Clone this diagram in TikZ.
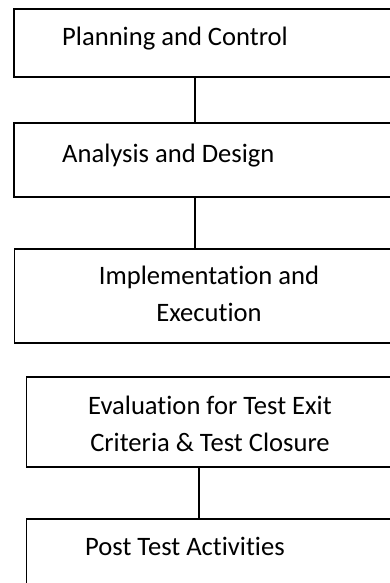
\documentclass[tikz,border=0pt]{standalone}
\usepackage{fontspec}
\setmainfont{Carlito}[RawFeature={-liga;-clig;-dlig}]
\begin{document}
\begin{tikzpicture}[x=1pt,y=-1pt,
  box/.style={draw=black,line width=1.9pt,rectangle,inner sep=0pt,outer sep=0pt,anchor=north west},
  conn/.style={draw=black,line width=1.9pt},
  lbl/.style={inner sep=0pt,font=\fontsize{26.6}{36.5}\selectfont}]
\useasboundingbox (0,0) rectangle (390,583);
\clip (0,0) rectangle (390,583);
\fill[white] (0,0) rectangle (390,583);
\node[box,minimum width=405.7pt,minimum height=68pt] (box1) at (14.3,9.3) {};
\node[box,minimum width=405.7pt,minimum height=74pt] (box2) at (14.3,123) {};
\node[box,minimum width=405.5pt,minimum height=93.7pt] (box3) at (14.5,249) {};
\node[box,minimum width=393.5pt,minimum height=90pt] (box4) at (26.5,377) {};
\node[box,minimum width=393.5pt,minimum height=90pt] (box5) at (26.5,519) {};
\coordinate (ca) at (195.2,0);
\coordinate (cb) at (199.3,0);
\draw[conn] (box1.south -| ca) -- (box2.north -| ca);
\draw[conn] (box2.south -| ca) -- (box3.north -| ca);
\draw[conn] (box4.south -| cb) -- (box5.north -| cb);
\node[lbl,anchor=base west] (t1) at (62,45.7) {Planning and Control};
\node[lbl,anchor=base west] (t2) at (62,162) {Analysis and Design};
\node[lbl,anchor=base,align=center] (t3) at (209,321) {Implementation and\\Execution};
\node[lbl,anchor=base,align=center] (t4) at (210,451) {Evaluation for Test Exit\\Criteria \& Test Closure};
\node[lbl,anchor=base west] (t5) at (85,555) {Post Test Activities};
\end{tikzpicture}
\end{document}
